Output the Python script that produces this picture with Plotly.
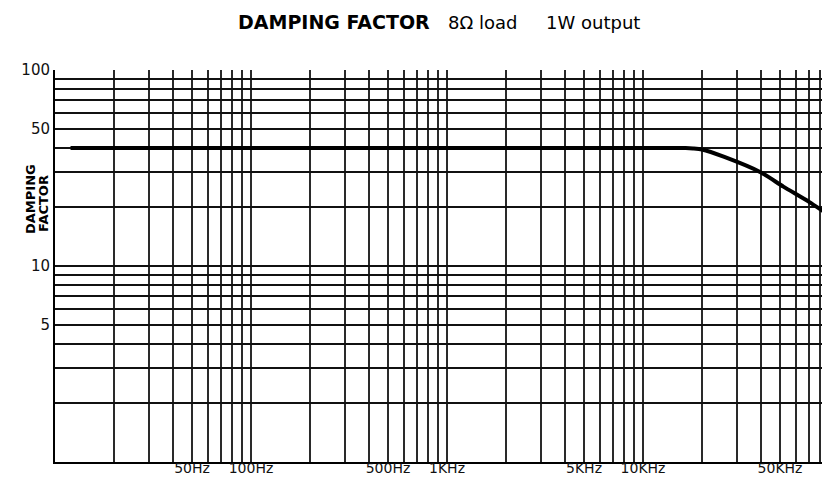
import plotly.graph_objects as go

# ---- data ----
freq_hz = [12, 100, 1000, 10000, 16500, 18000, 20000, 26000, 40000, 52000, 70000, 91000]
damping = [40, 40, 40, 40, 40, 39.8, 39.3, 36, 30, 25.4, 21.3, 17.9]

x_grid = [m * 10 ** e for e in range(1, 5) for m in range(1, 10)] + [100000]
x_labels = {50: "50Hz", 100: "100Hz", 500: "500Hz", 1000: "1KHz",
            5000: "5KHz", 10000: "10KHz", 50000: "50KHz"}
y_grid = [m * 10 ** e for e in range(0, 2) for m in range(1, 10)] + [100]
y_labels = {5: "5", 10: "10", 50: "50", 100: "100"}

FONT = "DejaVu Sans"
OFF = 8                      # page body margin offset
W, H = 830 - OFF, 477 - OFF  # figure size so that it fills the window
L, T, B = 55 - OFF, 70 - OFF, 462 - OFF   # plot area in figure pixels
PW, PH = W - L, B - T


def px_x(p):
    return (p - OFF - L) / PW


def px_y(p):
    return (B - (p - OFF)) / PH


fig = go.Figure()
fig.add_trace(go.Scatter(
    x=freq_hz, y=damping, mode="lines",
    line=dict(color="black", width=4, shape="spline", smoothing=0.7),
    showlegend=False, hoverinfo="skip",
))

fig.update_layout(
    width=W, height=H,
    margin=dict(l=L, r=0, t=T, b=H - B, autoexpand=False),
    paper_bgcolor="white", plot_bgcolor="white",
    font=dict(family=FONT, color="black", size=13),
    xaxis=dict(
        type="log", range=[1, 1 + PW / 196], automargin=False,
        tickmode="array", tickvals=x_grid,
        ticktext=[x_labels.get(v, "") for v in x_grid],
        showgrid=True, gridcolor="#2a2a2a", gridwidth=1.5,
        showline=True, linecolor="black", linewidth=2,
        ticks="", zeroline=False, ticklabelstandoff=-8,
        tickfont=dict(family=FONT, size=14, color="#111"),
    ),
    yaxis=dict(
        type="log", range=[0, 2], automargin=False,
        tickmode="array", tickvals=y_grid,
        ticktext=[y_labels.get(v, "") for v in y_grid],
        showgrid=True, gridcolor="#111", gridwidth=2,
        showline=True, linecolor="black", linewidth=2,
        ticks="", zeroline=False,
        tickfont=dict(family=FONT, size=15, color="#111"),
    ),
    annotations=[
        dict(text="<b>DAMPING FACTOR</b>", xref="paper", yref="paper",
             x=px_x(236), y=px_y(22), xanchor="left", yanchor="middle",
             showarrow=False, font=dict(family="DejaVu Sans", size=19, color="black")),
        dict(text="8Ω load", xref="paper", yref="paper",
             x=px_x(446), y=px_y(22), xanchor="left", yanchor="middle",
             showarrow=False, font=dict(family="DejaVu Sans", size=18, color="black")),
        dict(text="1W output", xref="paper", yref="paper",
             x=px_x(544), y=px_y(22), xanchor="left", yanchor="middle",
             showarrow=False, font=dict(family="DejaVu Sans", size=18, color="black")),
        dict(text="<b>DAMPING</b>", xref="paper", yref="paper",
             x=px_x(30), y=px_y(199), xanchor="center", yanchor="middle",
             textangle=-90, showarrow=False,
             font=dict(family="DejaVu Sans", size=13, color="black")),
        dict(text="<b>FACTOR</b>", xref="paper", yref="paper",
             x=px_x(43), y=px_y(204), xanchor="center", yanchor="middle",
             textangle=-90, showarrow=False,
             font=dict(family="DejaVu Sans", size=13, color="black")),
    ],
)

fig.write_html("out.html")
